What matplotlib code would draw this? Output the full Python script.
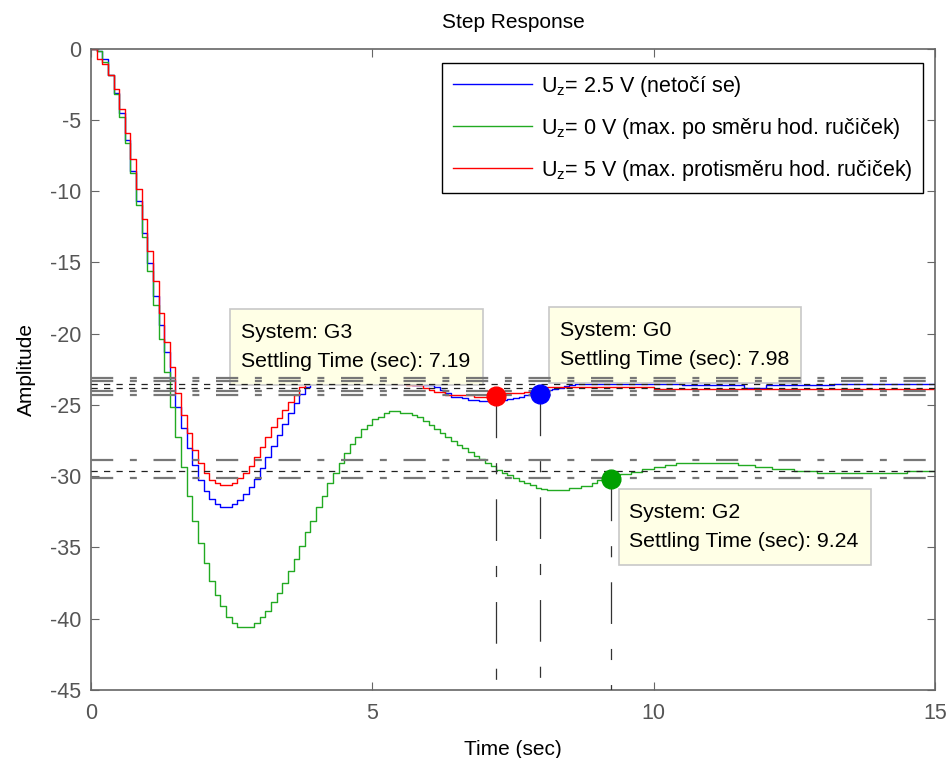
import numpy as np
import matplotlib
matplotlib.use('Agg')
import matplotlib.pyplot as plt
from matplotlib.patches import Rectangle

plt.rcParams['font.family'] = ['Liberation Sans', 'DejaVu Sans']
plt.rcParams['mathtext.fontset'] = 'custom'
plt.rcParams['mathtext.rm'] = 'Liberation Sans'
plt.rcParams['mathtext.default'] = 'regular'
plt.rcParams['lines.scale_dashes'] = False
plt.rcParams['axes.unicode_minus'] = False

# sample time of the discrete responses
Ts = 0.1

# Uz = 2.5 V  (G0)
g0 = [0, -0.18, -0.76, -1.86, -3.10, -4.55, -6.42, -8.57, -10.67, -12.92,
      -15.02, -17.36, -19.39, -21.30, -23.24, -25.12, -26.63, -28.04, -29.21, -30.26,
      -31.01, -31.61, -31.94, -32.13, -32.13, -31.94, -31.66, -31.24, -30.77, -30.19,
      -29.44, -28.63, -27.85, -27.10, -26.33, -25.54, -24.88, -24.25, -23.76, -23.35,
      -23.05, -22.85, -22.70, -22.60, -22.55, -22.55, -22.60, -22.70, -22.80, -22.90,
      -23.00, -23.10, -23.20, -23.30, -23.40, -23.50, -23.55, -23.58, -23.58, -23.58,
      -23.58, -23.72, -23.95, -24.18, -24.42, -24.42, -24.55, -24.65, -24.65, -24.72,
      -24.72, -24.72, -24.72, -24.65, -24.60, -24.50, -24.42, -24.30, -24.20, -24.20,
      -24.05, -23.95, -23.85, -23.79, -23.70, -23.60, -23.53, -23.53, -23.53, -23.53,
      -23.53, -23.53, -23.53, -23.53, -23.53, -23.53, -23.53, -23.53, -23.53, -23.53,
      -23.53, -23.53, -23.53, -23.53, -23.53, -23.60, -23.60, -23.60, -23.60, -23.60,
      -23.60, -23.60, -23.60, -23.60, -23.60, -23.60, -23.80, -23.80, -23.80, -23.80,
      -23.60, -23.60, -23.60, -23.60, -23.60, -23.60, -23.60, -23.60, -23.60, -23.60,
      -23.60, -23.60, -23.53, -23.53, -23.53, -23.53, -23.53, -23.53, -23.53, -23.53,
      -23.53, -23.53, -23.53, -23.53, -23.53, -23.53, -23.53, -23.53, -23.53, -23.53,
      -23.53]

# Uz = 0 V  (G2)
g2 = [0, -0.18, -0.92, -1.86, -3.22, -4.80, -6.63, -8.71, -10.97, -13.24,
      -15.60, -17.99, -20.40, -22.66, -25.12, -27.22, -29.33, -31.36, -33.13, -34.70,
      -36.10, -37.34, -38.32, -39.14, -39.89, -40.27, -40.55, -40.55, -40.55, -40.27,
      -39.89, -39.45, -38.84, -38.20, -37.46, -36.64, -35.80, -34.87, -33.95, -33.13,
      -32.17, -31.36, -30.45, -29.75, -29.09, -28.35, -27.76, -27.22, -26.68, -26.40,
      -25.98, -25.82, -25.54, -25.42, -25.42, -25.54, -25.54, -25.70, -25.82, -26.12,
      -26.40, -26.68, -26.94, -27.22, -27.50, -27.80, -28.05, -28.30, -28.55, -28.80,
      -29.05, -29.30, -29.55, -29.75, -29.95, -30.15, -30.35, -30.50, -30.65, -30.80,
      -30.90, -30.96, -31.00, -31.00, -31.00, -30.84, -30.84, -30.68, -30.68, -30.49,
      -30.26, -30.26, -30.10, -29.95, -29.86, -29.86, -29.68, -29.68, -29.51, -29.51,
      -29.33, -29.33, -29.21, -29.21, -29.07, -29.07, -29.07, -29.07, -29.07, -29.07,
      -29.07, -29.07, -29.07, -29.07, -29.07, -29.21, -29.21, -29.21, -29.33, -29.33,
      -29.33, -29.51, -29.51, -29.51, -29.51, -29.63, -29.63, -29.63, -29.63, -29.75,
      -29.75, -29.75, -29.75, -29.75, -29.75, -29.75, -29.75, -29.75, -29.75, -29.75,
      -29.75, -29.75, -29.75, -29.75, -29.75, -29.63, -29.63, -29.63, -29.63, -29.63,
      -29.63]

# Uz = 5 V  (G3)
g3 = [0, -0.74, -1.09, -1.86, -2.86, -4.24, -5.95, -7.75, -9.85, -11.96,
      -14.18, -16.28, -18.57, -20.56, -22.31, -24.18, -25.70, -26.98, -28.16, -29.09,
      -29.79, -30.26, -30.49, -30.61, -30.61, -30.45, -30.14, -29.75, -29.26, -28.63,
      -27.92, -27.22, -26.52, -25.93, -25.35, -24.77, -24.30, -23.76, -23.40, -23.10,
      -22.90, -22.75, -22.65, -22.60, -22.60, -22.65, -22.75, -22.85, -22.95, -23.05,
      -23.15, -23.25, -23.35, -23.45, -23.50, -23.55, -23.58, -23.60, -23.60, -23.79,
      -23.95, -24.11, -24.11, -24.30, -24.30, -24.30, -24.30, -24.30, -24.42, -24.42,
      -24.42, -24.42, -24.35, -24.18, -24.18, -24.18, -24.18, -24.07, -24.00, -23.95,
      -23.85, -23.76, -23.76, -23.76, -23.76, -23.76, -23.76, -23.76, -23.76, -23.76,
      -23.76, -23.76, -23.76, -23.76, -23.76, -23.76, -23.76, -23.76, -23.76, -23.76,
      -23.88, -23.88, -23.88, -23.88, -23.88, -23.88, -23.88, -23.88, -23.88, -23.88,
      -23.88, -23.88, -23.88, -23.88, -23.88, -23.88, -23.88, -23.88, -23.88, -23.88,
      -23.88, -23.88, -23.88, -23.88, -23.88, -23.88, -23.88, -23.88, -23.88, -23.88,
      -23.88, -23.88, -23.88, -23.88, -23.88, -23.88, -23.88, -23.88, -23.88, -23.88,
      -23.88, -23.88, -23.88, -23.88, -23.88, -23.88, -23.88, -23.88, -23.88, -23.88,
      -23.88]

labels = [r'U$_z$= 2.5 V (netočí se)',
          r'U$_z$= 0 V (max. po směru hod. ručiček)',
          r'U$_z$= 5 V (max. protisměru hod. ručiček)']
colors = ['#0000ff', '#22aa22', '#ff0000']

# settling band (upper, steady state, lower) per system
band_g0 = [-23.10, -23.55, -24.05]
band_g2 = [-28.90, -29.62, -30.15]
band_g3 = [-23.35, -23.83, -24.30]

# settling time markers
tip_names = ['G3', 'G0', 'G2']
tip_t = [7.19, 7.98, 9.24]
tip_y = [-24.35, -24.22, -30.2]
tip_colors = ['#ff0000', '#0000ff', '#00a000']
# data-tip boxes (x0, x1, ytop, ybottom) in data units
tip_boxes = [(2.47, 6.96, -18.27, -23.60),
             (8.14, 12.62, -18.11, -23.44),
             (9.38, 13.86, -30.89, -36.22)]

fig = plt.figure(figsize=(9.48, 7.58), dpi=100)
ax = fig.add_axes([0.096, 0.0897, 0.8903, 0.8463])

t = np.arange(len(g0)) * Ts
for y, c, lab in zip([g0, g2, g3], colors, labels):
    ax.plot(t, y, drawstyle='steps-post', color=c, lw=1.0, label=lab, zorder=2)

leg = ax.legend(loc='upper right', bbox_to_anchor=(0.986, 0.977), borderaxespad=0,
                fontsize=15.5, handlelength=3.7, handletextpad=0.4,
                labelspacing=0.78, borderpad=0.5,
                fancybox=False, framealpha=1, edgecolor='black')
leg.get_frame().set_linewidth(1.0)
leg.set_zorder(6)

# data tips
for name, st, (x0, x1, yt, yb) in zip(tip_names, tip_t, tip_boxes):
    ax.add_patch(Rectangle((x0, yb), x1 - x0, yt - yb, facecolor='#ffffe6',
                           edgecolor='#c8c8c8', lw=1.2, zorder=3))
    ax.text(x0 + 0.19, yt - 2.05, 'System: ' + name, fontsize=15.3, zorder=3.5,
            va='baseline')
    ax.text(x0 + 0.19, yt - 4.09, 'Settling Time (sec): %.2f' % st, fontsize=15.3,
            zorder=3.5, va='baseline')

# settling bands
for band in [band_g0, band_g3, band_g2]:
    for yy in [band[0], band[2]]:
        ax.axhline(yy, color='#777777', lw=1.6, dashes=(16, 12, 5, 12), zorder=4)
    ax.axhline(band[1], color='#222222', lw=0.9, dashes=(4.5, 4.5), zorder=4)

for st, yy in zip(tip_t, tip_y):
    ax.plot([st, st], [yy, -45], color='#333333', lw=0.9, dashes=(30, 18, 8, 18),
            zorder=4)
for st, yy, c in zip(tip_t, tip_y, tip_colors):
    ax.plot(st, yy, 'o', color=c, ms=13.5, zorder=5)

ax.set_xlim(0, 15)
ax.set_ylim(-45, 0)
ax.set_xticks([0, 5, 10, 15])
ax.set_yticks(np.arange(-45, 1, 5))
ax.tick_params(direction='in', length=6, width=0.8, top=True, right=True,
               labelsize=15.5, labelcolor='#555555', color='#666666')
ax.tick_params(axis='x', pad=9)
ax.tick_params(axis='y', pad=7)
for s in ax.spines.values():
    s.set_color('#666666')
    s.set_linewidth(1.2)

ax.set_title('Step Response', fontsize=15, pad=15)
ax.set_xlabel('Time (sec)', fontsize=15, labelpad=12)
ax.set_ylabel('Amplitude', fontsize=15, labelpad=10)

fig.savefig('out.png', dpi=100)
